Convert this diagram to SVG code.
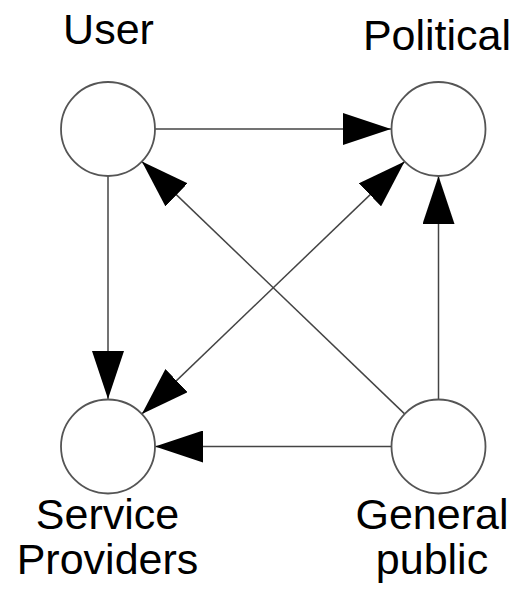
<svg xmlns="http://www.w3.org/2000/svg" width="522" height="601" viewBox="0 0 522 601">
<style>
.node circle{fill:#fff;stroke:#555;stroke-width:1.8}
.lbl{font-family:"Liberation Sans",Arial,sans-serif;font-size:43px;fill:#000;text-anchor:middle}
.conn path{fill:none;stroke:#444;stroke-width:1.5}
</style>
<defs>
<marker id="ah" markerUnits="userSpaceOnUse" markerWidth="48" markerHeight="32" refX="48" refY="16" orient="auto-start-reverse">
<path d="M0,0 L48,16 L0,32 z" fill="#000"/>
</marker>
</defs>
<rect width="522" height="601" fill="#fff"/>
<g id="connectors" class="conn">
<path d="M155,129 L391,129" marker-end="url(#ah)"/>
<path d="M108,176 L108,399" marker-end="url(#ah)"/>
<path d="M391,446.5 L155,446.5" marker-end="url(#ah)"/>
<path d="M438.5,399.5 L438.5,176" marker-end="url(#ah)"/>
<path d="M404.6,413.9 L141.9,161.6" marker-end="url(#ah)"/>
<path d="M141.9,413.9 L404.6,161.6" marker-start="url(#ah)" marker-end="url(#ah)"/>
</g>
<g id="user" class="node">
<circle cx="108" cy="129" r="47"/>
<text class="lbl" x="108.5" y="44">User</text>
</g>
<g id="political" class="node">
<circle cx="438.5" cy="129" r="47"/>
<text class="lbl" x="437" y="50">Political</text>
</g>
<g id="service-providers" class="node">
<circle cx="108" cy="446.5" r="47"/>
<text class="lbl" x="107.5" y="528.5">Service</text>
<text class="lbl" x="107.5" y="574">Providers</text>
</g>
<g id="general-public" class="node">
<circle cx="438.5" cy="446.5" r="47"/>
<text class="lbl" x="432" y="528.5">General</text>
<text class="lbl" x="432" y="574">public</text>
</g>
</svg>
